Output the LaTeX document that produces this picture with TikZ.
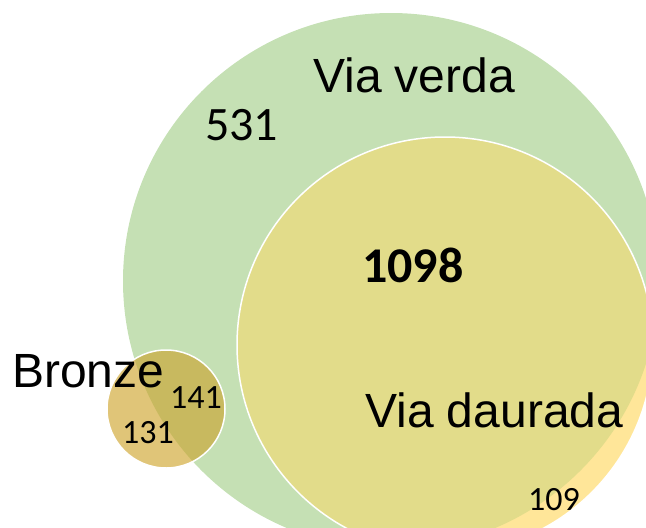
\documentclass[tikz,border=0pt]{standalone}
\usepackage{fontspec}
\setmainfont{Liberation Sans}
\newfontfamily\numfont{Carlito}
\definecolor{verdafill}{HTML}{C5E0B4}
\definecolor{dauradaout}{HTML}{FFE699}
\definecolor{dauradain}{HTML}{E2DC8A}
\definecolor{bronzeout}{HTML}{E0C578}
\definecolor{bronzein}{HTML}{C8B95F}
\tikzset{
  lbl/.style={inner sep=0pt, anchor=base west, font=\fontsize{48}{50}\selectfont},
  num/.style={inner sep=0pt, anchor=base west, font=\numfont\fontsize{48}{50}\selectfont},
  smallnum/.style={inner sep=0pt, anchor=base west, font=\numfont\fontsize{34}{36}\selectfont},
  rim/.style={draw=white, line width=1.5pt}
}
\begin{document}
\begin{tikzpicture}[x=1pt,y=-1pt]
\useasboundingbox (0,0) rectangle (646,528);
\clip (0,0) rectangle (646,528);
% Via verda
\fill[verdafill] (391,281) circle[radius=268];
% Via daurada
\fill[dauradaout] (445,345) circle[radius=208];
\begin{scope}
  \clip (391,281) circle[radius=268];
  \fill[dauradain] (445,345) circle[radius=208];
\end{scope}
\draw[rim] (445,345) circle[radius=208];
% Bronze
\fill[bronzeout] (166,409) circle[radius=59];
\begin{scope}
  \clip (391,281) circle[radius=268];
  \fill[bronzein] (166,409) circle[radius=59];
\end{scope}
\draw[rim] (166,409) circle[radius=59];
% labels
\node[lbl] (vv) at (313,92) {Via verda};
\node[lbl] (vd) at (365,427) {Via daurada};
\node[lbl] (br) at (12,387) {Bronze};
\node[num] (n531) at (205,140) {531};
\node[num, font=\numfont\bfseries\fontsize{50}{52}\selectfont] (n1098) at (362,282) {1098};
\node[smallnum] (n141) at (170,408) {141};
\node[smallnum] (n131) at (122,443) {131};
\node[smallnum] (n109) at (528,510) {109};
\end{tikzpicture}
\end{document}
